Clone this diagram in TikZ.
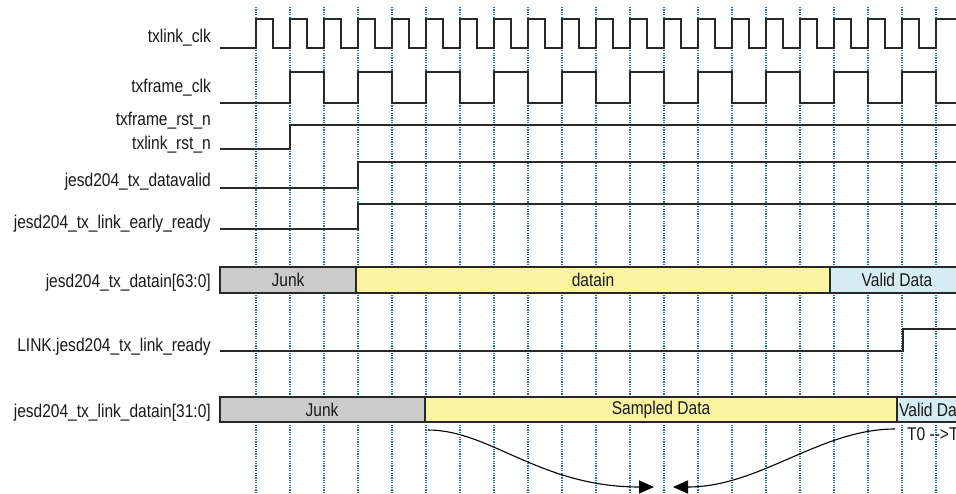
\documentclass[tikz,border=0pt]{standalone}
\usepackage{fontspec}
\setmainfont{Liberation Sans}[FakeStretch=0.84]
\usetikzlibrary{arrows.meta}
\definecolor{gridblue}{RGB}{25,115,185}
\definecolor{junkgray}{RGB}{203,203,203}
\definecolor{datayellow}{RGB}{250,243,160}
\definecolor{validblue}{RGB}{214,236,243}
\definecolor{sig}{RGB}{40,40,40}
\begin{document}
\begin{tikzpicture}[x=1pt,y=-1pt,
  font=\fontsize{18.5}{20}\selectfont,
  lbl/.style={anchor=base east, inner sep=0pt, text=black!90},
  sigline/.style={draw=sig, line width=1.2pt},
  gridline/.style={draw=gridblue, line width=1.3pt, dash pattern=on 1.2pt off 1.2pt},
  bus/.style={draw=sig, line width=1.2pt},
  bustext/.style={inner sep=0pt, text=black!90},
  curvearrow/.style={draw=black, line width=1.1pt, -{Triangle[length=15pt,width=13pt]}}]
\useasboundingbox (0,0) rectangle (956,494);
\clip (0,0) rectangle (956,494);
\fill[white] (0,0) rectangle (956,494);
% grid
\foreach \k in {0,...,20}{
  \draw[gridline] ({256+34*\k},7) -- ({256+34*\k},494);
}
% labels
\node[lbl] (l1) at (211,43) {txlink\_clk};
\node[lbl] (l2) at (211,93) {txframe\_clk};
\node[lbl] (l3) at (211,126) {txframe\_rst\_n};
\node[lbl] (l4) at (211,150) {txlink\_rst\_n};
\node[lbl] (l5) at (211,187) {jesd204\_tx\_datavalid};
\node[lbl] (l6) at (211,229) {jesd204\_tx\_link\_early\_ready};
\node[lbl] (l7) at (211,288) {jesd204\_tx\_datain[63:0]};
\node[lbl] (l8) at (211,352) {LINK.jesd204\_tx\_link\_ready};
\node[lbl] (l9) at (211,417) {jesd204\_tx\_link\_datain[31:0]};
% txlink_clk
\draw[sigline] (220,48) \foreach \k in {0,...,19}{ -- ({256+34*\k},48) -- ({256+34*\k},19) -- ({273+34*\k},19) -- ({273+34*\k},48) } -- (936,48) -- (936,19) -- (960,19);
% txframe_clk
\draw[sigline] (220,103) \foreach \k in {0,...,9}{ -- ({290+68*\k},103) -- ({290+68*\k},72) -- ({324+68*\k},72) -- ({324+68*\k},103) } -- (960,103);
% resets
\draw[sigline] (220,149) -- (290,149) -- (290,125) -- (960,125);
% datavalid
\draw[sigline] (220,188) -- (358,188) -- (358,162) -- (960,162);
% early ready
\draw[sigline] (220,229) -- (358,229) -- (358,204) -- (960,204);
% link ready
\draw[sigline] (220,351) -- (903,351) -- (903,329) -- (960,329);
% bus 1
\filldraw[bus, fill=junkgray] (220,267) rectangle (356,293);
\filldraw[bus, fill=datayellow] (356,267) rectangle (830,293);
\filldraw[bus, fill=validblue] (830,267) rectangle (960,293);
\node[bustext] (b1a) at (288,280) {Junk};
\node[bustext] (b1b) at (593,280) {datain};
\node[bustext] (b1c) at (897,280) {Valid Data};
% bus 2
\filldraw[bus, fill=junkgray] (220,397) rectangle (425,422);
\filldraw[bus, fill=datayellow] (425,397) rectangle (897,422);
\filldraw[bus, fill=validblue] (897,397) rectangle (960,422);
\node[bustext] (b2a) at (322,409.5) {Junk};
\node[bustext] (b2b) at (661,409.5) {Sampled Data};
\node[bustext, anchor=west] (b2c) at (899,409.5) {Valid Data};
\node[inner sep=0pt, anchor=base west, text=black!90] (t0) at (907,440) {T0 -{}-{}>T};
% arrows
\coordinate (a1s) at (428,430);
\coordinate (a1e) at (654,487);
\coordinate (a2s) at (895,429);
\coordinate (a2e) at (673,487);
\draw[curvearrow] (a1s) .. controls (490,430) and (540,487) .. (a1e);
\draw[curvearrow] (a2s) .. controls (820,429) and (760,487) .. (a2e);
\end{tikzpicture}
\end{document}
